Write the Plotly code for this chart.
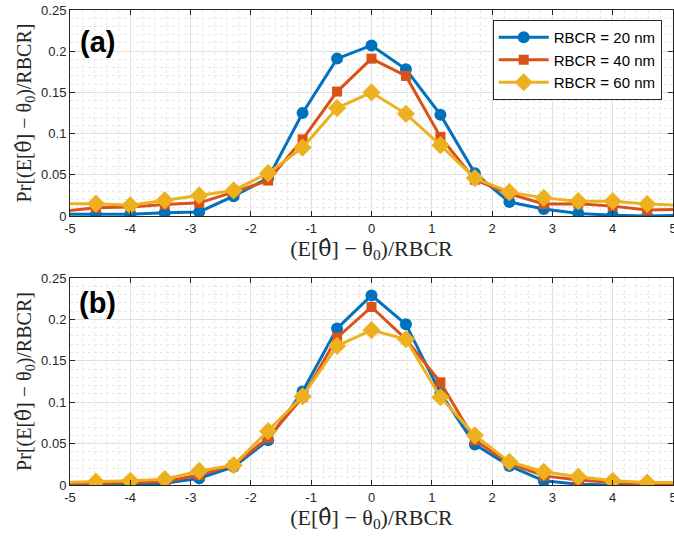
import plotly.graph_objects as go

x_vals = [-5.143, -4.571, -4.0, -3.429, -2.857, -2.286, -1.714, -1.143, -0.571, 0.0,
          0.571, 1.143, 1.714, 2.286, 2.857, 3.429, 4.0, 4.571, 5.143]

series_names = ["RBCR = 20 nm", "RBCR = 40 nm", "RBCR = 60 nm"]

# Panel (a)
a_20 = [0.002, 0.002, 0.002, 0.004, 0.005, 0.024, 0.046, 0.125, 0.191, 0.207,
        0.178, 0.123, 0.052, 0.017, 0.0085, 0.003, 0.001, 0.000, 0.001]
a_40 = [0.0055, 0.010, 0.011, 0.014, 0.016, 0.029, 0.043, 0.093, 0.151, 0.191,
        0.170, 0.096, 0.044, 0.027, 0.0146, 0.015, 0.012, 0.0073, 0.008]
a_60 = [0.015, 0.015, 0.013, 0.019, 0.025, 0.031, 0.052, 0.083, 0.131, 0.150,
        0.124, 0.086, 0.046, 0.029, 0.022, 0.018, 0.018, 0.0146, 0.013]

# Panel (b)
b_20 = [0.000, 0.000, 0.000, 0.002, 0.008, 0.022, 0.054, 0.113, 0.189, 0.229,
        0.194, 0.111, 0.049, 0.023, 0.005, 0.001, 0.000, 0.000, 0.000]
b_40 = [0.002, 0.002, 0.003, 0.004, 0.012, 0.024, 0.057, 0.106, 0.178, 0.215,
        0.176, 0.124, 0.054, 0.026, 0.011, 0.006, 0.003, 0.001, 0.001]
b_60 = [0.003, 0.004, 0.005, 0.007, 0.017, 0.024, 0.065, 0.107, 0.168, 0.187,
        0.176, 0.106, 0.060, 0.028, 0.016, 0.010, 0.005, 0.003, 0.003]

x_ticks = [-5, -4, -3, -2, -1, 0, 1, 2, 3, 4, 5]
y_ticks = [0, 0.05, 0.1, 0.15, 0.2, 0.25]
y_ticktext = ["0", "0.05", "0.1", "0.15", "0.2", "0.25"]

colors = ["#0072BD", "#D95319", "#EDB120"]
symbols = ["circle", "square", "diamond"]
msizes = [12, 10, 14]

fig = go.Figure()
for panel, (data, xa, ya) in enumerate([((a_20, a_40, a_60), "x", "y"),
                                         ((b_20, b_40, b_60), "x2", "y2")]):
    for i, ys in enumerate(data):
        fig.add_trace(go.Scatter(
            x=x_vals, y=ys, xaxis=xa, yaxis=ya, mode="lines+markers",
            name=series_names[i], showlegend=(panel == 0),
            line=dict(color=colors[i], width=3),
            marker=dict(symbol=symbols[i], size=msizes[i], color=colors[i],
                        line=dict(width=0)),
        ))

serif = "Liberation Serif, DejaVu Serif, serif"
sans = "Liberation Sans, Arial, sans-serif"
theta_hat = "<span style='font-family:DejaVu Serif'>θ̂</span>"
xtitle = "(E[" + theta_hat + "] − θ<sub>0</sub>)/RBCR"
ytitle = "Pr[(E[" + theta_hat + "] − θ<sub>0</sub>)/RBCR]"

def xaxis_style(anchor):
    return dict(
        range=[-5, 5], tickvals=x_ticks, ticktext=[str(v) for v in x_ticks],
        anchor=anchor, domain=[0, 1], automargin=False, ticklabeloverflow="allow",
        showgrid=True, gridcolor="#e0e0e0", gridwidth=1,
        minor=dict(dtick=0.2, showgrid=True, gridcolor="#e8e8e8", griddash="dot", gridwidth=1),
        ticks="inside", ticklen=5, tickcolor="#262626",
        showline=True, linecolor="#262626", linewidth=1, mirror="ticks",
        zeroline=False, tickfont=dict(family=sans, size=13, color="#262626"),
        title=dict(text=xtitle, font=dict(family=serif, size=22, color="#262626"), standoff=1),
    )

def yaxis_style(anchor, dom):
    return dict(
        range=[0, 0.25], tickvals=y_ticks, ticktext=y_ticktext,
        anchor=anchor, domain=dom, automargin=False,
        showgrid=True, gridcolor="#e0e0e0", gridwidth=1,
        minor=dict(dtick=0.01, showgrid=True, gridcolor="#e8e8e8", griddash="dot", gridwidth=1),
        ticks="inside", ticklen=5, tickcolor="#262626",
        showline=True, linecolor="#262626", linewidth=1, mirror="ticks",
        zeroline=False, tickfont=dict(family=sans, size=13, color="#262626"),
        title=dict(text=ytitle, font=dict(family=serif, size=20, color="#262626"), standoff=4),
    )

fig.update_layout(
    width=674, height=543,
    margin=dict(l=70, r=1, t=10, b=58),
    paper_bgcolor="white", plot_bgcolor="white",
    xaxis=xaxis_style("y"), yaxis=yaxis_style("x", [0.5663, 1.0]),
    xaxis2=xaxis_style("y2"), yaxis2=yaxis_style("x2", [0.0, 0.4358]),
    legend=dict(x=0.701, y=0.979, xanchor="left", yanchor="top",
                bgcolor="white", bordercolor="#262626", borderwidth=1,
                font=dict(family=sans, size=15, color="#000000"),
                itemwidth=50, tracegroupgap=0),
    annotations=[
        dict(text="<b>(a)</b>", xref="paper", yref="paper", x=0.046, y=0.9326,
             xanchor="center", yanchor="middle", showarrow=False,
             font=dict(family=sans, size=29, color="#000000")),
        dict(text="<b>(b)</b>", xref="paper", yref="paper", x=0.046, y=0.383,
             xanchor="center", yanchor="middle", showarrow=False,
             font=dict(family=sans, size=29, color="#000000")),
    ],
)

fig.write_html("out.html", config={"displayModeBar": False},
               post_script="document.body.style.margin='0';document.body.style.padding='0';")
